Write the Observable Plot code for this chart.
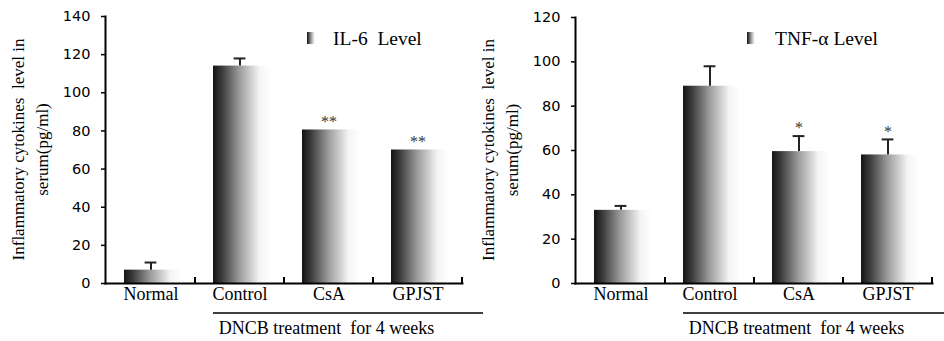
<!DOCTYPE html>
<html><head><meta charset="utf-8">
<script src="https://cdn.jsdelivr.net/npm/d3@7"></script>
<script src="https://cdn.jsdelivr.net/npm/@observablehq/plot@0.6"></script>
<style>
html,body{margin:0;padding:0;background:#fff;}
#wrap{position:relative;width:944px;height:341px;overflow:hidden;background:#fff;}
.panel{position:absolute;top:0;}
.panel svg{overflow:visible;max-width:none;}
.serif{font-family:"Liberation Serif","Times New Roman",Times,"DejaVu Serif",serif !important;}
</style></head><body><div id="wrap"></div>
<script>
const groups = ["Normal", "Control", "CsA", "GPJST"];
const treatmentGroups = ["Control", "CsA", "GPJST"];
const il6Values = [7, 114, 80.5, 70];
const il6Errors = [4, 4, 0, 0];
const il6Stars = ["", "", "**", "**"];
const il6Ticks = [0, 20, 40, 60, 80, 100, 120, 140];
const tnfValues = [33, 89, 59.5, 58];
const tnfErrors = [2, 9, 7, 7];
const tnfStars = ["", "", "*", "*"];
const tnfTicks = [0, 20, 40, 60, 80, 100, 120];
const yTitle = ["Inflammatory cytokines  level in", "serum(pg/ml)"];
const treatmentLabel = "DNCB treatment  for 4 weeks";
const il6Legend = "IL-6  Level";
const tnfLegend = "TNF-\u03b1 Level";

const H = 341, MB = 58, ML = 105;

function panel(cfg) {
  const {id, left, width, marginTop, yMax, ticks, values, errors, stars, legend, legendX, legendTextX, lineEnd} = cfg;
  const data = groups.map((g, i) => ({group: g, value: values[i], err: errors[i], star: stars[i], top: values[i] + errors[i]}));
  const withErr = data.filter(d => d.err > 0);
  const plot = Plot.plot({
    width, height: H, marginLeft: ML, marginRight: width - 462, marginTop, marginBottom: MB,
    style: {background: "transparent", overflow: "visible"},
    x: {domain: groups, padding: 0, axis: null},
    y: {domain: [0, yMax], axis: null},
    marks: [
      Plot.barY(data, {x: "group", y: "value", fill: `url(#grad-${id})`, insetLeft: 18, insetRight: 13}),
      Plot.ruleX(withErr, {x: "group", y1: "value", y2: "top", stroke: "#222", strokeWidth: 2}),
      Plot.tickY(withErr, {x: "group", y: "top", stroke: "#222", strokeWidth: 2, insetLeft: 38.6, insetRight: 38.6}),
      Plot.text(data.filter(d => d.star), {x: "group", y: "top", text: "star", dy: -8, fontSize: 16, fill: "#333", className: "serif"}),
      Plot.axisY({ticks, tickSize: 4, tickPadding: 11, fontSize: 14.5, fontFamily: "DejaVu Sans", label: null, strokeWidth: 1.5, fill: "#000"}),
      Plot.axisX({tickSize: 0, tickPadding: 4, fontSize: 18, className: "serif", label: null, fill: "#000"}),
      Plot.frame({anchor: "left", strokeWidth: 2}),
      Plot.frame({anchor: "bottom", strokeWidth: 2})
    ]
  });
  const svg = d3.select(plot);
  const defs = svg.insert("defs", ":first-child");
  const lg = defs.append("linearGradient").attr("id", `grad-${id}`)
    .attr("x1", 0).attr("x2", 1).attr("y1", 0).attr("y2", 0);
  [[0, "#141414"], [0.15, "#3a3a3a"], [0.45, "#9a9a9a"], [0.8, "#f4f4f4"], [1, "#ffffff"]]
    .forEach(([o, c]) => lg.append("stop").attr("offset", o).attr("stop-color", c));
  const x = plot.scale("x");
  const bw = x.bandwidth;
  const yb = H - MB;
  const g = svg.append("g").attr("text-anchor", "start");
  groups.forEach(k => {
    const xe = x.apply(k) + bw;
    g.append("line").attr("x1", xe).attr("x2", xe).attr("y1", yb).attr("y2", yb - 6)
      .attr("stroke", "#000").attr("stroke-width", 2);
  });
  const x0 = x.apply(treatmentGroups[0]) + 18;
  const xEnd = x.apply(treatmentGroups[treatmentGroups.length - 1]) + bw;
  g.append("line").attr("x1", x0).attr("x2", lineEnd).attr("y1", 313).attr("y2", 313)
    .attr("stroke", "#000").attr("stroke-width", 1.5);
  g.append("text").attr("class", "serif").attr("x", (x.apply(treatmentGroups[0]) + xEnd) / 2 - 2).attr("y", 334)
    .attr("text-anchor", "middle").attr("font-size", 18).text(treatmentLabel);
  g.append("text").attr("class", "serif").attr("transform", `translate(24,${(marginTop + yb) / 2}) rotate(-90)`)
    .attr("text-anchor", "middle").attr("font-size", 17).text(yTitle[0]);
  g.append("text").attr("class", "serif").attr("transform", `translate(48,${(marginTop + yb) / 2}) rotate(-90)`)
    .attr("text-anchor", "middle").attr("font-size", 17).text(yTitle[1]);
  g.append("rect").attr("x", legendX).attr("y", 32).attr("width", 9).attr("height", 12)
    .attr("fill", `url(#grad-${id})`);
  g.append("text").attr("class", "serif").attr("x", legendTextX).attr("y", 45)
    .attr("text-anchor", "start").attr("font-size", 19.5).text(legend);

  const div = document.createElement("div");
  div.className = "panel";
  div.style.left = left + "px";
  div.appendChild(plot);
  document.getElementById("wrap").appendChild(div);
}

panel({id: "il6", left: 0, width: 472, marginTop: 16, yMax: 140, ticks: il6Ticks,
  values: il6Values, errors: il6Errors, stars: il6Stars, legend: il6Legend,
  legendX: 307, legendTextX: 333, lineEnd: 483});
panel({id: "tnf", left: 470, width: 474, marginTop: 17, yMax: 120, ticks: tnfTicks,
  values: tnfValues, errors: tnfErrors, stars: tnfStars, legend: tnfLegend,
  legendX: 277, legendTextX: 305, lineEnd: 474});
</script></body></html>
